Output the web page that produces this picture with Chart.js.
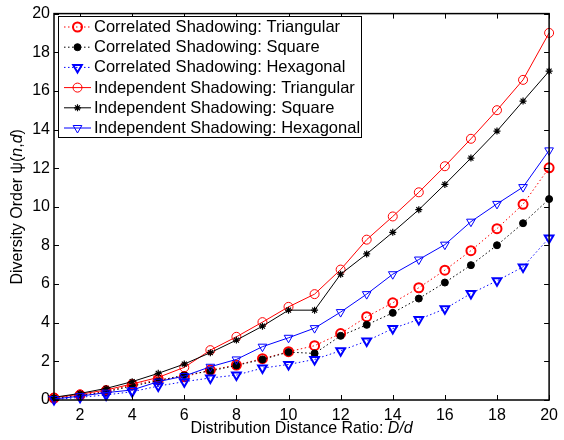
<!DOCTYPE html>
<html>
<head>
<meta charset="utf-8">
<script src="https://cdn.jsdelivr.net/npm/chart.js@4/dist/chart.umd.min.js"></script>
<style>
  html, body { margin: 0; padding: 0; background: #fff; }
  #wrap { width: 564px; height: 440px; }
</style>
</head>
<body>
<div id="wrap"><canvas id="c" width="564" height="440"></canvas></div>
<script>
const distRatio = [1, 2, 3, 4, 5, 6, 7, 8, 9, 10, 11, 12, 13, 14, 15, 16, 17, 18, 19, 20];
const xTicks = [2, 4, 6, 8, 10, 12, 14, 16, 18, 20];
const yTicks = [0, 2, 4, 6, 8, 10, 12, 14, 16, 18, 20];

const corrTri = [0.10, 0.25, 0.45, 0.78, 1.05, 1.20, 1.55, 1.81, 2.14, 2.50, 2.81, 3.44, 4.31, 5.03, 5.81, 6.72, 7.73, 8.87, 10.13, 12.02];
const corrSq  = [0.08, 0.22, 0.42, 0.72, 1.00, 1.29, 1.50, 1.79, 2.10, 2.48, 2.41, 3.32, 3.89, 4.51, 5.25, 6.08, 6.98, 8.01, 9.15, 10.40];
const corrHex = [0.02, 0.14, 0.26, 0.43, 0.72, 0.95, 1.14, 1.29, 1.65, 1.84, 2.10, 2.55, 3.05, 3.70, 4.17, 4.72, 5.51, 6.17, 6.89, 8.39];
const indTri  = [0.12, 0.30, 0.52, 0.83, 1.17, 1.69, 2.58, 3.27, 4.03, 4.82, 5.48, 6.75, 8.30, 9.50, 10.75, 12.10, 13.52, 15.00, 16.57, 19.00];
const indSq   = [0.14, 0.34, 0.60, 0.95, 1.38, 1.86, 2.45, 3.10, 3.82, 4.65, 4.65, 6.51, 7.56, 8.68, 9.85, 11.16, 12.52, 13.92, 15.47, 17.02];
const indHex  = [0.05, 0.20, 0.38, 0.52, 0.95, 1.24, 1.72, 2.10, 2.76, 3.22, 3.72, 4.55, 5.48, 6.51, 7.27, 8.04, 9.23, 10.15, 11.02, 12.92];

const seriesNames = [
  'Correlated Shadowing: Triangular',
  'Correlated Shadowing: Square',
  'Correlated Shadowing: Hexagonal',
  'Independent Shadowing: Triangular',
  'Independent Shadowing: Square',
  'Independent Shadowing: Hexagonal'
];

const FONT = '"Liberation Sans", Arial, Helvetica, sans-serif';
const RED = '#ff0000', BLACK = '#000000', BLUE = '#0000ff';
const DOT = [1.5, 2.5];

function pts(ys) {
  return distRatio.map((x, i) => ({ x, y: ys[i] }));
}

function series(name, ys, color, style, opts) {
  return Object.assign({
    label: name,
    data: pts(ys),
    borderColor: color,
    backgroundColor: 'transparent',
    pointBorderColor: color,
    pointBackgroundColor: 'transparent',
    pointStyle: style,
    borderWidth: 1,
    tension: 0,
    clip: false
  }, opts);
}

const datasets = [
  series(seriesNames[0], corrTri, RED, 'circle', { borderDash: DOT, pointRadius: 4.5, pointBorderWidth: 2, order: 6 }),
  series(seriesNames[1], corrSq, BLACK, 'circle', { borderDash: DOT, pointRadius: 3.5, pointBorderWidth: 1, pointBackgroundColor: BLACK, order: 5 }),
  series(seriesNames[2], corrHex, BLUE, 'triangle', { borderDash: DOT, pointRadius: 5, pointBorderWidth: 2, pointRotation: 180, order: 4 }),
  series(seriesNames[3], indTri, RED, 'circle', { pointRadius: 4.5, pointBorderWidth: 1, order: 3 }),
  series(seriesNames[4], indSq, BLACK, 'star', { pointRadius: 3.5, pointBorderWidth: 1.2, order: 2 }),
  series(seriesNames[5], indHex, BLUE, 'triangle', { pointRadius: 5, pointBorderWidth: 1, pointRotation: 180, order: 1 })
];

// MATLAB-like box with inward ticks, axis titles and legend
const matlabAxes = {
  id: 'matlabAxes',
  afterDraw(chart) {
    const { ctx, chartArea: a, scales } = chart;
    ctx.save();
    ctx.strokeStyle = '#000';
    ctx.lineWidth = 1.5;
    ctx.strokeRect(a.left, a.top, a.right - a.left, a.bottom - a.top);
    ctx.lineWidth = 1;
    const tl = 5;
    ctx.beginPath();
    xTicks.forEach(v => {
      const px = Math.round(scales.x.getPixelForValue(v)) + 0.5;
      ctx.moveTo(px, a.bottom); ctx.lineTo(px, a.bottom - tl);
      ctx.moveTo(px, a.top); ctx.lineTo(px, a.top + tl);
    });
    yTicks.forEach(v => {
      const py = Math.round(scales.y.getPixelForValue(v)) + 0.5;
      ctx.moveTo(a.left, py); ctx.lineTo(a.left + tl, py);
      ctx.moveTo(a.right, py); ctx.lineTo(a.right - tl, py);
    });
    ctx.stroke();

    // axis titles with italic parts
    const drawParts = (parts, cx, cy, size) => {
      let w = 0;
      parts.forEach(p => { ctx.font = (p[1] ? 'italic ' : '') + size + 'px ' + FONT; w += ctx.measureText(p[0]).width; });
      let x = cx - w / 2;
      ctx.textAlign = 'left';
      ctx.textBaseline = 'middle';
      ctx.fillStyle = '#000';
      parts.forEach(p => {
        ctx.font = (p[1] ? 'italic ' : '') + size + 'px ' + FONT;
        ctx.fillText(p[0], x, cy);
        x += ctx.measureText(p[0]).width;
      });
    };
    drawParts([['Distribution Distance Ratio: ', false], ['D/d', true]], (a.left + a.right) / 2, 429, 16);
    ctx.save();
    ctx.translate(18, (a.top + a.bottom) / 2);
    ctx.rotate(-Math.PI / 2);
    drawParts([['Diversity Order \u03c8(', false], ['n', true], [',', false], ['d', true], [')', false]], 0, 0, 16);
    ctx.restore();

    // legend
    const bx = 58.5, by = 16.5, bw = 303, bh = 121;
    ctx.fillStyle = '#fff';
    ctx.fillRect(bx, by, bw, bh);
    ctx.strokeStyle = '#000';
    ctx.lineWidth = 1;
    ctx.strokeRect(bx, by, bw, bh);
    chart.data.datasets.forEach((ds, i) => {
      const y = 27 + i * 20.2;
      ctx.save();
      ctx.strokeStyle = ds.borderColor;
      ctx.lineWidth = ds.borderWidth;
      ctx.setLineDash(ds.borderDash || []);
      ctx.beginPath();
      ctx.moveTo(64, y); ctx.lineTo(91, y);
      ctx.stroke();
      ctx.setLineDash([]);
      ctx.strokeStyle = ds.pointBorderColor;
      ctx.fillStyle = ds.pointBackgroundColor;
      ctx.lineWidth = ds.pointBorderWidth;
      Chart.helpers.drawPoint(ctx, {
        pointStyle: ds.pointStyle,
        radius: ds.pointRadius,
        rotation: ds.pointRotation || 0,
        borderWidth: ds.pointBorderWidth
      }, 77.5, y);
      ctx.restore();
      ctx.fillStyle = '#000';
      ctx.font = '16.5px ' + FONT;
      ctx.textAlign = 'left';
      ctx.textBaseline = 'middle';
      ctx.fillText(ds.label, 94, y + 0.5);
    });
    ctx.restore();
  }
};

new Chart(document.getElementById('c').getContext('2d'), {
  type: 'line',
  data: { datasets },
  options: {
    responsive: false,
    animation: false,
    devicePixelRatio: 1,
    layout: { padding: { top: 13, right: 9, left: 0, bottom: 0 } },
    plugins: { legend: { display: false }, tooltip: { enabled: false } },
    scales: {
      x: {
        type: 'linear', min: 1, max: 20,
        afterBuildTicks: s => { s.ticks = xTicks.map(v => ({ value: v })); },
        afterFit: s => { s.height = 40; },
        grid: { display: false, drawTicks: false },
        border: { display: false },
        ticks: { color: '#000', font: { family: FONT, size: 16 }, padding: 6, maxRotation: 0, autoSkip: false }
      },
      y: {
        type: 'linear', min: 0, max: 20,
        afterBuildTicks: s => { s.ticks = yTicks.map(v => ({ value: v })); },
        afterFit: s => { s.width = 54; },
        grid: { display: false, drawTicks: false },
        border: { display: false },
        ticks: { color: '#000', font: { family: FONT, size: 16 }, padding: 4, autoSkip: false }
      }
    }
  },
  plugins: [matlabAxes]
});
</script>
</body>
</html>
